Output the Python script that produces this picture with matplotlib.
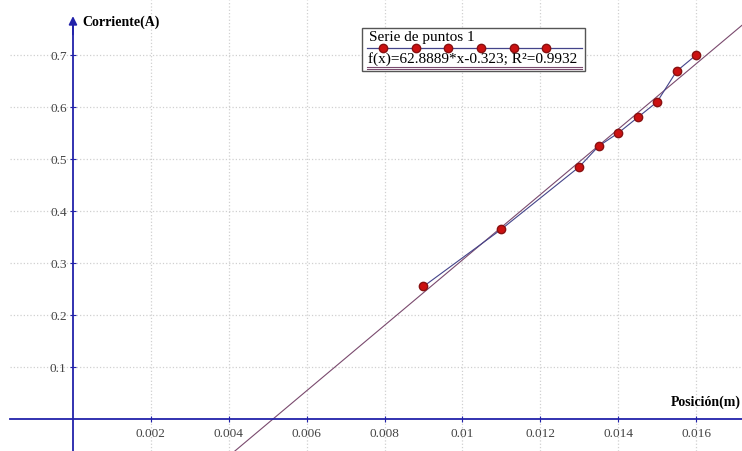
import matplotlib.pyplot as plt
from matplotlib.lines import Line2D
from matplotlib.patches import Rectangle
import numpy as np

# --- datos ---
posicion = [0.009, 0.011, 0.013, 0.0135, 0.014, 0.0145, 0.015, 0.0155, 0.016]
corriente = [0.255, 0.365, 0.485, 0.525, 0.55, 0.58, 0.61, 0.669, 0.70]
pendiente = 62.8889
ordenada = -0.323
x_ticks = [0.002, 0.004, 0.006, 0.008, 0.01, 0.012, 0.014, 0.016]
x_labels = ['0.002', '0.004', '0.006', '0.008', '0.01', '0.012', '0.014', '0.016']
y_ticks = [0.1, 0.2, 0.3, 0.4, 0.5, 0.6, 0.7]
leyenda = ['Serie de puntos 1', 'f(x)=62.8889*x-0.323; R²=0.9932']

plt.rcParams['font.family'] = ['Liberation Serif', 'DejaVu Serif']

fig = plt.figure(figsize=(7.42, 4.51), dpi=100)
ax = fig.add_axes([10 / 742, 0, 732 / 742, 1])

xmin, xmax = -0.001617, 0.01718
ymin, ymax = -0.0615, 0.806
ax.set_xlim(xmin, xmax)
ax.set_ylim(ymin, ymax)

# grid
ax.set_xticks(x_ticks)
ax.set_xticklabels(x_labels)
ax.set_yticks(y_ticks)
ax.grid(True, color='#d0d0d0', linestyle=':', linewidth=0.9)

# axes through origin
axis_blue = '#2222aa'
for s in ['top', 'right']:
    ax.spines[s].set_visible(False)
ax.spines['left'].set_position(('data', 0))
ax.spines['bottom'].set_position(('data', 0))
ax.spines['left'].set_bounds(ymin, 0.76)
ax.spines['left'].set_color(axis_blue)
ax.spines['bottom'].set_color(axis_blue)
ax.spines['left'].set_linewidth(1.3)
ax.spines['bottom'].set_linewidth(1.3)
ax.tick_params(axis='both', direction='inout', length=5, color=axis_blue,
               labelsize=9.5, labelcolor='#444444')
ax.tick_params(axis='x', pad=4)
ax.tick_params(axis='y', pad=2)

# arrow on y axis
ax.annotate('', xy=(0, 0.775), xytext=(0, 0.74),
            arrowprops=dict(arrowstyle='-|>', color=axis_blue, lw=1.3,
                            mutation_scale=12, shrinkA=0, shrinkB=0))
ax.text(0.00025, 0.763, 'Corriente(A)', fontsize=10, fontweight='bold',
        va='center', ha='left')
ax.text(0.01535, 0.02, 'Posición(m)', fontsize=10, fontweight='bold',
        va='bottom', ha='left')

# regression line
xr = np.array([xmin, xmax])
ax.plot(xr, pendiente * xr + ordenada, color='#7a4a6e', linewidth=0.8)

# data series
ax.plot(posicion, corriente, color='#44448a', linewidth=0.8, zorder=3)
ax.plot(posicion, corriente, 'o', color='#cc1111', markeredgecolor='#881111',
        markersize=6, zorder=4)

# legend box drawn in figure pixels
W, H = 742, 451
def fx(px):
    return px / W
def fy(py):
    return 1 - py / H

fig.patches.append(Rectangle((fx(362), fy(71)), fx(585) - fx(362), fy(28) - fy(71),
                             transform=fig.transFigure, facecolor='white',
                             edgecolor='#555555', linewidth=1.0, zorder=5))
fig.text(fx(369), fy(37), leyenda[0], fontsize=11, va='center', ha='left', zorder=6)
fig.lines.append(Line2D([fx(367), fx(582)], [fy(48), fy(48)],
                        transform=fig.transFigure, color='#44448a', linewidth=0.9,
                        zorder=6))
xs_leg = [383, 416, 448, 481, 514, 546]
fig.lines.append(Line2D([fx(p) for p in xs_leg], [fy(48)] * len(xs_leg),
                        transform=fig.transFigure, linestyle='none', marker='o',
                        color='#cc1111', markeredgecolor='#881111', markersize=6,
                        zorder=7))
fig.text(fx(368), fy(59), leyenda[1], fontsize=11, va='center', ha='left', zorder=6)
fig.lines.append(Line2D([fx(367), fx(582)], [fy(67), fy(67)],
                        transform=fig.transFigure, color='#7a4a6e', linewidth=0.8,
                        zorder=6))
fig.lines.append(Line2D([fx(367), fx(582)], [fy(69), fy(69)],
                        transform=fig.transFigure, color='#7a4a6e', linewidth=0.8,
                        zorder=6))

fig.savefig('out.png', dpi=100)
